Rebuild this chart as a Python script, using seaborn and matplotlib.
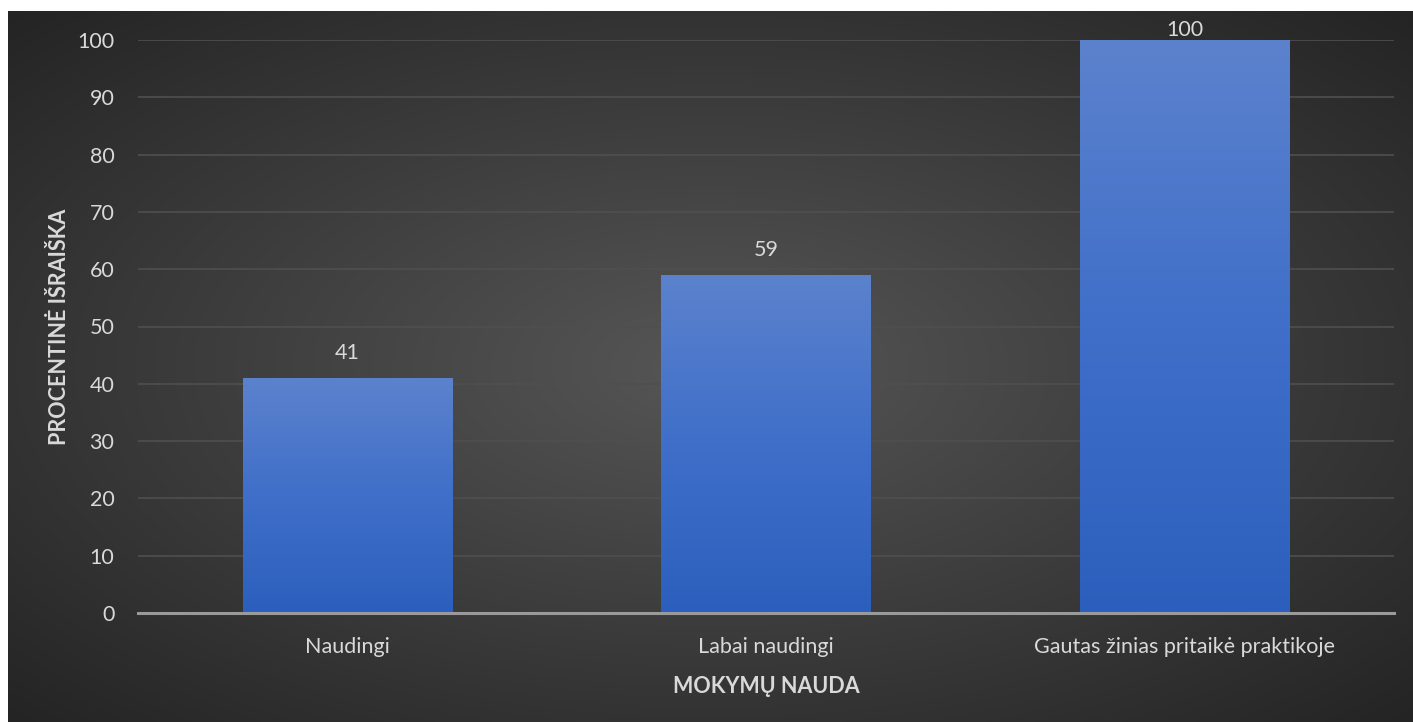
import numpy as np
import pandas as pd
import matplotlib
matplotlib.use("Agg")
import matplotlib.pyplot as plt
import seaborn as sns
from matplotlib.colors import LinearSegmentedColormap
from matplotlib import patheffects as pe

categories = ["Naudingi", "Labai naudingi", "Gautas žinias pritaikė praktikoje"]
values = [41, 59, 100]
y_ticks = [0, 10, 20, 30, 40, 50, 60, 70, 80, 90, 100]
x_title = "MOKYMŲ NAUDA"
y_title = "PROCENTINĖ IŠRAIŠKA"

sns.set_theme(style="dark")
plt.rcParams['font.family'] = ['Lato', 'DejaVu Sans']

W, H, DPI = 1413, 722, 100
FS = 15.5
fig = plt.figure(figsize=(W / DPI, H / DPI), dpi=DPI)
fig.patch.set_facecolor("white")

# background panel with radial gradient
bx0, by1 = 8 / W, 1 - 11 / H
bg = fig.add_axes([bx0, 0, 1 - bx0, by1])
bg.set_axis_off()
ny, nx = 300, 600
yy, xx = np.mgrid[-1:1:ny * 1j, -1:1:nx * 1j]
r = np.sqrt(xx ** 2 + yy ** 2) / np.sqrt(2)
r = np.clip(r, 0, 1)
c_center = np.array([0x56, 0x56, 0x56]) / 255
c_edge = np.array([0x24, 0x24, 0x24]) / 255
img = c_center[None, None, :] * (1 - r[..., None]) + c_edge[None, None, :] * r[..., None]
bg.imshow(img, aspect="auto", extent=[0, 1, 0, 1], interpolation="bilinear")
bg.set_xlim(0, 1)
bg.set_ylim(0, 1)

ax_l, ax_r = 138 / W, 1394 / W
ax_b, ax_t = 1 - 613 / H, 1 - 40 / H
ax = fig.add_axes([ax_l, ax_b, ax_r - ax_l, ax_t - ax_b])
ax.patch.set_alpha(0)

df = pd.DataFrame({"cat": categories, "val": values})
sns.barplot(data=df, x="cat", y="val", ax=ax, width=0.5, color="#4472c4",
            saturation=1, zorder=3)

ax.set_ylim(0, 100)
ax.set_xlim(-0.5, 2.5)
ax.set_yticks(y_ticks)
ax.yaxis.grid(True, color="#4f4f4f", linewidth=1.2, zorder=0)
ax.xaxis.grid(False)
for s in ["top", "right", "left"]:
    ax.spines[s].set_visible(False)
ax.spines["bottom"].set_color("#9a9a9a")
ax.spines["bottom"].set_linewidth(2.2)
ax.spines["bottom"].set_zorder(5)
ax.tick_params(axis="both", length=0, colors="#d9d9d9", labelsize=FS)
ax.tick_params(axis="y", pad=17)
ax.tick_params(axis="x", pad=17)

grad_cmap = LinearSegmentedColormap.from_list("g", ["#2c5fbd", "#3f6fc9", "#5c82cd"])
grad = np.linspace(0, 1, 256).reshape(-1, 1)
for p in ax.patches:
    x0, y0 = p.get_x(), p.get_y()
    w, h = p.get_width(), p.get_height()
    p.set_facecolor("none")
    p.set_edgecolor("none")
    shadow = plt.Rectangle((x0, y0), w, h, facecolor="none", edgecolor="none", zorder=2,
                           path_effects=[pe.SimplePatchShadow(offset=(0, -1), shadow_rgbFace="black", alpha=0.35),
                                         pe.Normal()])
    ax.add_patch(shadow)
    im = ax.imshow(grad, cmap=grad_cmap, origin="lower", aspect="auto",
                   extent=[x0, x0 + w, y0, y0 + h], zorder=3, interpolation="bilinear")
    im.set_clip_path(p)
    ly = min(h + 4.4, 101.7)
    ax.text(x0 + w / 2, ly, f"{h:g}", ha="center", va="center",
            color="#d9d9d9", fontsize=FS, zorder=6, clip_on=False)

ax.set_xlim(-0.5, 2.5)
ax.set_ylim(0, 100)
ax.set_xlabel(x_title, color="#d9d9d9", fontsize=FS, fontweight="bold", labelpad=14)
ax.set_ylabel(y_title, color="#d9d9d9", fontsize=FS, fontweight="bold", labelpad=5)

fig.savefig("out.png", dpi=DPI)
